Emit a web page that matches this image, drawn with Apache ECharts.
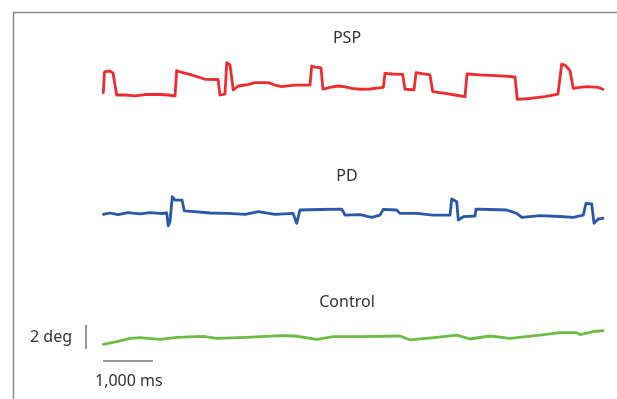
<!DOCTYPE html>
<html>
<head>
<meta charset="utf-8">
<script src="https://cdn.jsdelivr.net/npm/echarts@6/dist/echarts.min.js"></script>
<style>html,body{margin:0;padding:0;background:#fff}#c{width:617px;height:399px}</style>
</head>
<body>
<div id="c"></div>
<script>
// time in ms, eye position in deg
var pspTime = [6,30,40,140,200,240,274,440,640,840,1140,1300,1440,1474,1540,1774,1900,2040,2300,2340,2440,2474,2540,2580,2606,2706,2900,3040,3300,3440,3574,3840,4140,4174,4240,4360,4400,4540,4700,4840,4980,5140,5340,5606,5640,5780,5994,6040,6220,6260,6380,6540,6594,6840,7040,7240,7280,7540,7840,8040,8240,8286,8540,8840,9100,9174,9240,9340,9406,9540,9674,9900,10000];
var pspDeg = [1.44,3.17,3.33,3.25,3.08,3.0,1.25,1.25,1.17,1.29,1.29,1.25,1.17,3.28,3.17,2.92,2.75,2.56,2.54,1.25,1.33,3.94,3.75,3.67,1.67,2.0,2.12,2.28,2.28,2.08,1.94,2.08,2.08,3.67,3.58,3.5,1.73,1.88,2.0,1.92,1.81,1.73,1.75,1.89,3.06,3.0,2.97,1.73,1.67,3.11,3.04,2.92,1.53,1.38,1.25,1.11,3.0,2.92,2.87,2.83,2.75,0.89,0.96,1.12,1.33,3.83,3.75,3.28,1.81,1.88,1.94,1.89,1.73];

var pdTime = [6,140,300,500,740,940,1140,1274,1306,1340,1386,1440,1580,1626,1840,2140,2500,2840,3106,3440,3800,3874,3940,4340,4774,4840,5140,5374,5540,5606,5874,5940,6274,6600,6940,6974,7074,7106,7206,7440,7460,7740,8074,8274,8374,8740,9140,9406,9606,9660,9774,9820,9906,10000];
var pdDeg = [2.14,2.25,2.12,2.29,2.17,2.29,2.21,2.25,1.19,1.5,3.61,3.33,3.33,2.42,2.37,2.25,2.22,2.14,2.36,2.14,2.22,1.39,2.5,2.54,2.58,2.08,2.12,1.89,2.08,2.56,2.5,2.22,2.22,2.08,2.08,3.42,3.19,1.67,1.94,2.0,2.58,2.54,2.5,2.22,1.89,2.03,1.96,1.89,2.08,3.06,3.0,1.39,1.75,1.81];

var ctrlTime = [6,274,540,740,1140,1474,2006,2274,2874,3540,3840,4274,4606,5140,5940,6140,6674,7074,7340,7740,8140,8740,9140,9474,9540,9806,10000];
var ctrlDeg = [1.31,1.53,1.81,1.86,1.72,1.89,1.97,1.81,1.89,2.03,2.0,1.72,1.94,1.94,2.0,1.67,1.89,2.08,1.75,2.0,1.81,2.08,2.28,2.28,2.11,2.36,2.44];

var groupNames = ['PSP', 'PD', 'Control'];
var scaleBarMs = 1000;
var scaleBarDeg = 2;
var scaleBarLabels = ['1,000 ms', '2 deg'];

var colors = ['#ee2b2f', '#2a58a8', '#6cbd45'];
var tops = [50, 180, 300];
var titleY = [38, 176, 302];
var FONT = '"Noto Sans", "Open Sans", sans-serif';

function zip(a, b) { return a.map(function (v, i) { return [v, b[i]]; }); }
var seriesData = [zip(pspTime, pspDeg), zip(pdTime, pdDeg), zip(ctrlTime, ctrlDeg)];

var chart = echarts.init(document.getElementById('c'), null, {renderer: 'canvas'});
var grids = [], xAxes = [], yAxes = [], series = [];
for (var i = 0; i < 3; i++) {
  grids.push({left: 103, right: 14, top: tops[i], height: 60});
  xAxes.push({type: 'value', gridIndex: i, min: 0, max: 10000, show: false});
  yAxes.push({type: 'value', gridIndex: i, min: 0, max: 5, show: false});
  series.push({type: 'line', xAxisIndex: i, yAxisIndex: i, data: seriesData[i], showSymbol: false,
    lineStyle: {color: colors[i], width: 2.8, join: 'round', cap: 'round'}, animation: false, silent: true});
}
chart.setOption({
  animation: false,
  grid: grids, xAxis: xAxes, yAxis: yAxes, series: series
});

// scale bars sized through the control panel's scales
var p0 = chart.convertToPixel({gridIndex: 2}, [0, 0]);
var px = chart.convertToPixel({gridIndex: 2}, [scaleBarMs, 0]);
var py = chart.convertToPixel({gridIndex: 2}, [0, scaleBarDeg]);
var barW = px[0] - p0[0];
var barH = p0[1] - py[1];
var hx = p0[0], hy = 361;
var vx = 86, vyBottom = 349;

var graphics = [
  {type: 'polyline', shape: {points: [[617, 12.5], [13.5, 12.5], [13.5, 399]]},
    style: {stroke: '#8a8a8a', lineWidth: 1.5, fill: null}, silent: true},
  {type: 'line', shape: {x1: hx, y1: hy, x2: hx + barW, y2: hy}, style: {stroke: '#333', lineWidth: 1}},
  {type: 'line', shape: {x1: vx, y1: vyBottom, x2: vx, y2: vyBottom - barH}, style: {stroke: '#333', lineWidth: 1}},
  {type: 'text', x: 95, y: 381, style: {text: scaleBarLabels[0], font: '16px ' + FONT, fill: '#333', textVerticalAlign: 'middle', textAlign: 'left'}},
  {type: 'text', x: 72, y: 337, style: {text: scaleBarLabels[1], font: '16px ' + FONT, fill: '#333', textVerticalAlign: 'middle', textAlign: 'right'}}
];
for (var j = 0; j < 3; j++) {
  graphics.push({type: 'text', x: 347, y: titleY[j], style: {text: groupNames[j], font: '16px ' + FONT, fill: '#333', textVerticalAlign: 'middle', textAlign: 'center'}});
}
chart.setOption({graphic: graphics});
</script>
</body>
</html>
